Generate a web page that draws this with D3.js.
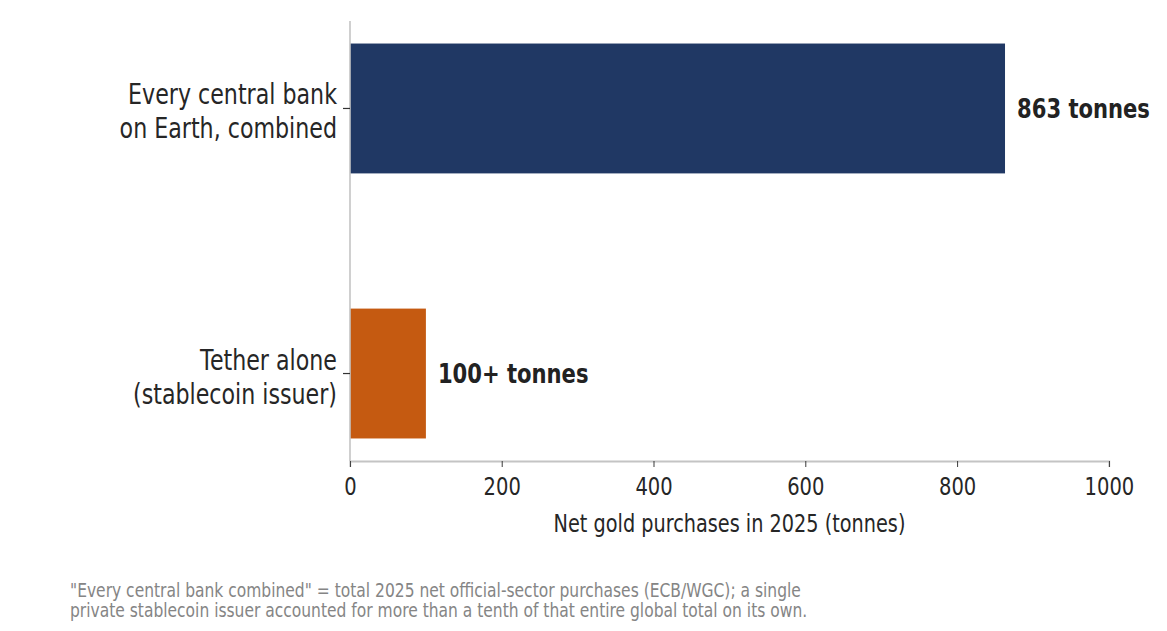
<!doctype html>
<html>
<head>
    <meta charset="UTF-8">
    <title>Central banks vs Tether gold purchases</title>
    <script src="https://cdn.jsdelivr.net/npm/d3@7"></script>
    <style>
        body { margin: 0; background: #fff; }
        text { font-family: "DejaVu Sans", sans-serif; }
    </style>
</head>
<body>
    <div id="chart"></div>

    <script>
        // data
        var categories = [["Every central bank", "on Earth, combined"], ["Tether alone", "(stablecoin issuer)"]];
        var values = [863, 100];
        var valueLabels = ["863 tonnes", "100+ tonnes"];
        var barColors = ["#203864", "#c55a11"];
        var xTicks = [0, 200, 400, 600, 800, 1000];
        var xTitle = "Net gold purchases in 2025 (tonnes)";
        var footnote = ["\"Every central bank combined\" = total 2025 net official-sector purchases (ECB/WGC); a single",
                        "private stablecoin issuer accounted for more than a tenth of that entire global total on its own."];

        var width = 1167,
            height = 631;

        // text in the picture is horizontally squeezed, so the whole drawing is squeezed
        var sx = 0.8;
        var vw = width / sx;
        function X(px) { return px / sx; }

        var svg = d3.select("#chart")
            .append("svg")
            .attr("width", width)
            .attr("height", height)
            .attr("viewBox", "0 0 " + vw + " " + height)
            .attr("preserveAspectRatio", "none");

        var x = d3.scaleLinear()
            .domain([0, 1000])
            .range([X(350), X(1109)]);

        var y = d3.scaleBand()
            .domain(d3.range(categories.length))
            .range([21, 461])
            .paddingInner(0.51)
            .paddingOuter(0.085);

        // bars
        svg.selectAll(".bar")
            .data(values)
            .enter()
            .append("rect")
            .attr("class", "bar")
            .attr("x", x(0))
            .attr("y", function (d, i) { return y(i); })
            .attr("width", function (d) { return x(d) - x(0); })
            .attr("height", y.bandwidth())
            .style("fill", function (d, i) { return barColors[i]; });

        // value labels
        svg.selectAll(".vlabel")
            .data(values)
            .enter()
            .append("text")
            .attr("class", "vlabel")
            .text(function (d, i) { return valueLabels[i]; })
            .attr("x", function (d) { return x(d) + X(12); })
            .attr("y", function (d, i) { return y(i) + y.bandwidth() / 2; })
            .attr("dy", "0.36em")
            .style("font-size", "26.4px")
            .style("font-weight", "bold")
            .style("fill", "#222");

        // x axis
        var xAxis = svg.append("g")
            .attr("transform", "translate(0,461)")
            .call(d3.axisBottom(x).tickValues(xTicks).tickSize(6).tickPadding(11).tickFormat(d3.format("d")));
        xAxis.select(".domain").style("stroke", "#c4c4c4").style("stroke-width", 2);
        xAxis.selectAll(".tick line").style("stroke", "#333").style("stroke-width", 1.2);
        xAxis.selectAll(".tick text")
            .style("font-size", "24.4px")
            .style("font-family", "DejaVu Sans")
            .style("fill", "#262626");

        // y axis
        var yAxis = svg.append("g")
            .attr("transform", "translate(" + x(0) + ",0)")
            .call(d3.axisLeft(y).tickSize(X(7)).tickFormat(""));
        yAxis.select(".domain").attr("d", "M0,21V461").style("stroke", "#c4c4c4").style("stroke-width", 2);
        yAxis.selectAll(".tick line").style("stroke", "#333").style("stroke-width", 1.2);

        // category labels
        var cat = svg.selectAll(".cat")
            .data(categories)
            .enter()
            .append("text")
            .attr("class", "cat")
            .attr("text-anchor", "end")
            .style("font-size", "27.7px")
            .style("fill", "#262626");
        cat.selectAll("tspan")
            .data(function (d, i) { return d.map(function (t, j) { return { t: t, i: i, j: j }; }); })
            .enter()
            .append("tspan")
            .attr("x", X(337))
            .attr("y", function (d) { return y(d.i) + y.bandwidth() / 2 + (d.j === 0 ? -4 : 30); })
            .text(function (d) { return d.t; });

        // axis title
        svg.append("text")
            .attr("x", (x(0) + x(1000)) / 2)
            .attr("y", 532)
            .attr("text-anchor", "middle")
            .style("font-size", "24.1px")
            .style("fill", "#262626")
            .text(xTitle);

        // footnote
        svg.selectAll(".foot")
            .data(footnote)
            .enter()
            .append("text")
            .attr("class", "foot")
            .attr("x", X(70))
            .attr("y", function (d, i) { return 597 + i * 20; })
            .style("font-size", "19.4px")
            .style("fill", "#858585")
            .text(function (d) { return d; });
    </script>
</body>
</html>
